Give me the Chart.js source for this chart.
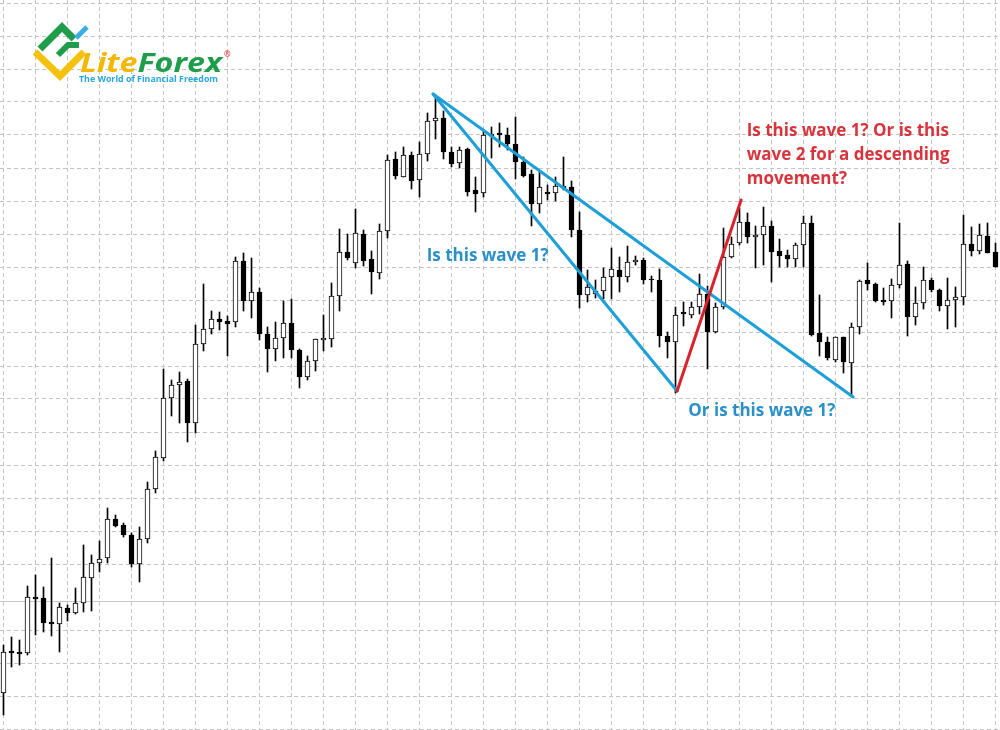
<!DOCTYPE html>
<html>
<head>
<meta charset="utf-8">
<script src="https://cdn.jsdelivr.net/npm/chart.js@4.4.1/dist/chart.umd.min.js"></script>
<style>
  html, body { margin: 0; padding: 0; background: #fff; }
  #wrap { width: 1000px; height: 730px; position: relative; }
</style>
</head>
<body>
<div id="wrap"><canvas id="waveChart"></canvas></div>
<script>
// candle values (points above the bottom of the chart)
const openV = [37,79,78,77,133,132,108,106,122,117, 127,152,167,172,211,205,195,166,191,241,
  272,332,345,349,307,386,401,411,409,408, 469,429,438,396,381,392,407,380,353,369,
  390,391,434,478,467,496,471,457,499,571, 553,575,550,576,609,612,578,567,581,540,
  537,594,597,595,586,568,556,526,538,537, 542,543,500,435,436,439,453,460,453,468,
  470,451,450,394,388,418,415,423,436,398, 423,473,487,508,493,495,504,479,475,471,
  485,507,397,388,370,393,367,403,450,446, 430,429,445,466,413,427,450,440,424,430,
  433,486,479,494,478];
const closeV = [78,77,76,133,131,107,106,123,117,127, 153,167,171,211,204,195,166,191,241,273,
  332,345,348,307,386,401,411,408,406,469, 429,438,396,381,392,407,380,353,369,391,
  392,434,478,472,497,469,458,499,570,554, 575,549,576,609,612,578,566,580,538,536,
  595,596,595,586,568,554,526,543,536,544, 544,500,435,443,439,453,461,453,468,470,
  450,450,394,388,415,416,423,436,398,423, 473,486,508,493,495,504,478,474,471,485,
  507,395,388,372,393,368,403,449,446,429, 428,445,465,413,427,450,440,424,430,433,
  486,479,495,477,463];
const highV = [85,93,90,144,155,143,172,127,125,142, 185,175,189,222,215,207,197,203,248,279,
  361,350,358,351,405,446,419,418,414,473, 477,472,442,403,408,429,431,381,374,391,
  415,447,501,496,521,500,479,506,575,578, 583,578,588,617,632,619,583,583,582,553,
  599,603,607,602,613,573,560,558,545,553, 573,549,518,460,450,462,482,473,484,474,
  472,454,461,398,423,428,428,456,444,427, 502,493,522,517,504,523,509,491,480,487,
  514,514,435,393,393,393,407,450,467,447, 442,451,507,469,443,463,452,441,452,443,
  515,503,506,507,487];
const lowV = [15,63,65,75,95,98,94,78,109,116, 118,119,158,167,203,193,163,148,187,237,
  269,314,307,288,297,379,396,400,374,403, 419,412,390,358,369,372,372,342,350,359,
  379,383,419,470,462,464,436,451,492,551, 553,541,533,569,591,571,563,562,534,518,
  533,572,583,580,551,553,504,517,530,529, 540,493,422,428,432,431,431,438,448,465,
  446,438,383,372,337,404,412,416,361,397, 421,472,485,487,462,465,448,463,463,463,
  463,394,374,370,368,357,333,396,440,428, 425,412,442,394,405,421,438,419,401,403,
  425,474,476,477,463];

// wave lines: [candle index, value]
const waveTop = [53.7, 636];
const waveLowA = [84.2, 339];
const waveLowB = [106.2, 333];
const waveRedTop = [92.2, 530];
const levelLine = 129;

const xGrid = [];
for (let i = 0; i <= 124; i += 4) xGrid.push(i);
const yGrid = [];
for (let v = 1; v <= 730; v += 33) yGrid.push(v);

const overlay = {
  id: 'overlay',
  beforeDatasetsDraw(chart) {
    const { ctx, chartArea, scales: { y } } = chart;
    ctx.save();
    // solid level line
    const ly = Math.round(y.getPixelForValue(levelLine)) + 0.5;
    ctx.strokeStyle = '#c6c6c6';
    ctx.lineWidth = 1;
    ctx.beginPath();
    ctx.moveTo(chartArea.left, ly);
    ctx.lineTo(chartArea.right, ly);
    ctx.stroke();

    // logo
    ctx.lineCap = 'butt';
    ctx.lineJoin = 'miter';
    ctx.strokeStyle = '#f4c20d';
    ctx.lineWidth = 7;
    ctx.beginPath();
    ctx.moveTo(35, 52); ctx.lineTo(60, 76); ctx.lineTo(84, 52);
    ctx.stroke();
    ctx.strokeStyle = '#1f9d4b';
    ctx.beginPath();
    ctx.moveTo(40, 49); ctx.lineTo(62, 27); ctx.lineTo(74, 39);
    ctx.stroke();
    ctx.lineWidth = 6;
    ctx.beginPath();
    ctx.moveTo(58, 55); ctx.lineTo(68, 45); ctx.lineTo(79, 45);
    ctx.stroke();
    ctx.strokeStyle = '#3aaee2';
    ctx.lineWidth = 5;
    ctx.beginPath();
    ctx.moveTo(76, 38); ctx.lineTo(87, 27);
    ctx.stroke();

    ctx.font = 'italic bold 27px "Open Sans"';
    ctx.textBaseline = 'alphabetic';
    const w1 = ctx.measureText('Lite').width;
    const w2 = ctx.measureText('Forex').width;
    const k = 142 / (w1 + w2);
    ctx.save();
    ctx.translate(80, 72);
    ctx.scale(k, 1);
    ctx.fillStyle = '#f5b700';
    ctx.fillText('Lite', 0, 0);
    ctx.fillStyle = '#1f9d4b';
    ctx.fillText('Forex', w1, 0);
    ctx.restore();
    ctx.fillStyle = '#e0413e';
    ctx.font = 'bold 8px "Open Sans"';
    ctx.fillText('®', 224, 57);
    ctx.fillStyle = '#2aa6de';
    ctx.font = 'bold 9px "Open Sans"';
    ctx.textBaseline = 'middle';
    const t = 'The World of Financial Freedom';
    const tw = ctx.measureText(t).width;
    ctx.save();
    ctx.translate(79, 79);
    ctx.scale(139 / tw, 1);
    ctx.fillText(t, 0, 0);
    ctx.restore();
    ctx.restore();
  },
  afterDatasetsDraw(chart) {
    const { ctx, scales: { x, y } } = chart;
    const px = p => [x.getPixelForValue(p[0]), y.getPixelForValue(p[1])];
    const seg = (a, b, color) => {
      const [x1, y1] = px(a), [x2, y2] = px(b);
      ctx.strokeStyle = color;
      ctx.lineWidth = 3;
      ctx.lineCap = 'round';
      ctx.beginPath();
      ctx.moveTo(x1, y1);
      ctx.lineTo(x2, y2);
      ctx.stroke();
    };
    ctx.save();
    seg(waveTop, waveLowA, '#1d9fd8');
    seg(waveTop, waveLowB, '#1d9fd8');
    seg(waveLowA, waveRedTop, '#d8232c');

    ctx.font = 'bold 17px "Open Sans"';
    ctx.textBaseline = 'middle';
    ctx.fillStyle = '#2a90c8';
    ctx.fillText('Is this wave 1?', x.getPixelForValue(52.9), y.getPixelForValue(474));
    ctx.fillText('Or is this wave 1?', x.getPixelForValue(85.6), y.getPixelForValue(319));
    ctx.fillStyle = '#d9343c';
    const rx = x.getPixelForValue(92.9);
    ctx.fillText('Is this wave 1? Or is this', rx, y.getPixelForValue(599));
    ctx.fillText('wave 2 for a descending', rx, y.getPixelForValue(575));
    ctx.fillText('movement?', rx, y.getPixelForValue(551));
    ctx.restore();
  }
};

const ctx = document.getElementById('waveChart');
const waveChart = new Chart(ctx, {
  type: 'bar',
  data: {
    datasets: [{
      label: 'body',
      data: openV.map((o, i) => ({ x: i, y: [o, closeV[i]] })),
      backgroundColor: openV.map((o, i) => closeV[i] >= o ? '#ffffff' : '#000000'),
      borderColor: '#000000',
      borderWidth: 1,
      borderSkipped: false,
      barThickness: 5,
      grouped: false,
      order: 0
    }, {
      label: 'wick',
      data: lowV.map((l, i) => ({ x: i, y: [l, highV[i]] })),
      backgroundColor: '#000000',
      borderWidth: 0,
      barThickness: 1,
      grouped: false,
      order: 1
    }]
  },
  options: {
    responsive: true,
    maintainAspectRatio: false,
    animation: false,
    layout: { padding: 0 },
    plugins: {
      legend: { display: false },
      tooltip: { enabled: false }
    },
    scales: {
      x: {
        type: 'linear',
        offset: false,
        min: -0.4375,
        max: 124.5625,
        afterBuildTicks: s => { s.ticks = xGrid.map(v => ({ value: v })); },
        afterFit: s => { s.height = 0; },
        ticks: { display: false },
        grid: { color: '#c4c4c4', drawTicks: false, offset: false },
        border: { display: false, dash: [4, 3] }
      },
      y: {
        min: 0,
        max: 730,
        afterBuildTicks: s => { s.ticks = yGrid.map(v => ({ value: v })); },
        afterFit: s => { s.width = 0; },
        ticks: { display: false },
        grid: {
          color: c => c.tick && c.tick.value === 133 ? 'rgba(0,0,0,0)' : '#c4c4c4',
          drawTicks: false
        },
        border: { display: false, dash: [4, 3] }
      }
    }
  },
  plugins: [overlay]
});
</script>
</body>
</html>
